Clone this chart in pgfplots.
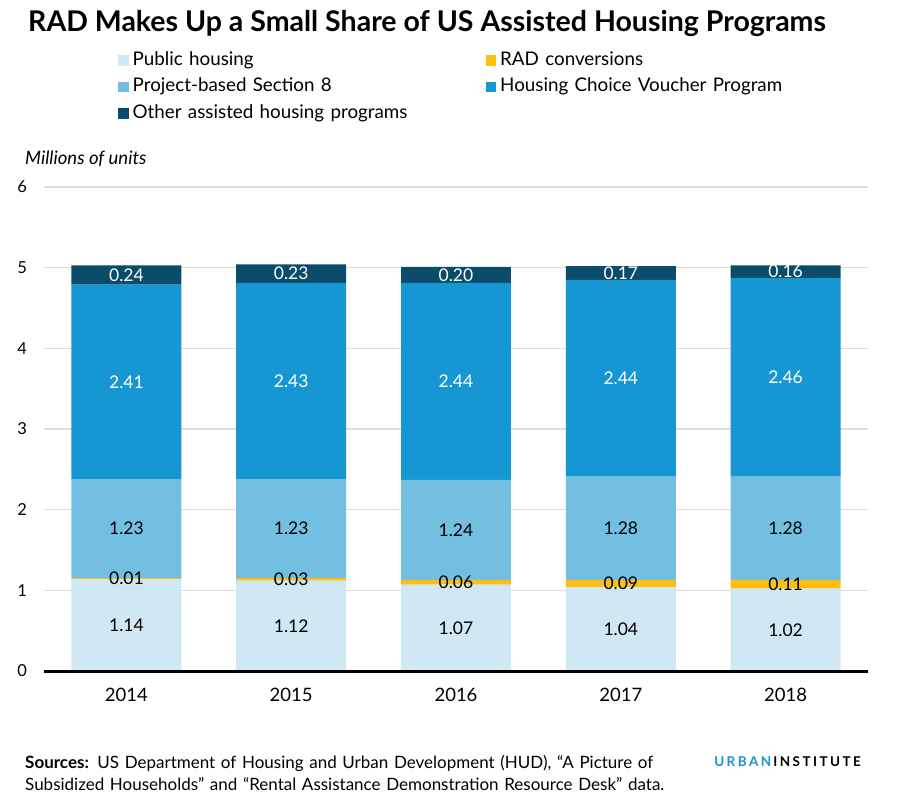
\documentclass[border=0pt]{standalone}
\usepackage{fontspec}
\setmainfont{Lato}
\usepackage{pgfplots}
\usepackage{pgfplotstable}
\pgfplotsset{compat=1.18}
\definecolor{cph}{HTML}{CFE8F3}
\definecolor{crad}{HTML}{FDBF11}
\definecolor{cpbs}{HTML}{73BFE2}
\definecolor{chcv}{HTML}{1696D2}
\definecolor{coth}{HTML}{0A4C6A}
\definecolor{cgrid}{HTML}{DEDDDD}
\pgfplotstableread{
x ph rad pbs hcv oth
0 1.14 0.01 1.23 2.41 0.24
1 1.12 0.03 1.23 2.43 0.23
2 1.07 0.06 1.24 2.44 0.20
3 1.04 0.09 1.28 2.44 0.17
4 1.02 0.11 1.28 2.46 0.16
}\datatable
\begin{document}
\begin{tikzpicture}
\path (-44pt,-138pt) rectangle (863pt,671pt);
\begin{axis}[
  at={(0pt,0pt)}, anchor=south west,
  scale only axis, width=824pt, height=484pt,
  ybar stacked, bar width=0.667,
  xmin=-0.5, xmax=4.5, ymin=0, ymax=6,
  xtick=data, xticklabels={2014,2015,2016,2017,2018},
  ytick={0,1,2,3,4,5,6},
  major tick length=0pt,
  axis line style={draw=none},
  ymajorgrids, major grid style={cgrid, line width=1.2pt},
  /pgf/number format/assume math mode=true,
  yticklabel style={font=\fontsize{16.5}{20}\selectfont, xshift=-13.5pt},
  xticklabel style={font=\fontsize{18.5}{22}\selectfont, yshift=-14pt},
  nodes near coords={\pgfmathprintnumber[fixed,fixed zerofill,precision=2]{\pgfplotspointmeta}},
  every node near coord/.append style={anchor=center, inner sep=0pt,
    font=\fontsize{17.5}{20}\selectfont},
  legend columns=2,
  legend style={draw=none, fill=none, inner sep=0pt,
    at={(0.0898,1.2888)}, anchor=north west,
    font=\fontsize{18.8}{21}\selectfont,
    nodes={text width=349pt, align=left, text height=13.5pt, text depth=4pt, inner ysep=4.5pt, inner xsep=4pt}},
  legend image code/.code={\fill[#1,draw=none] (0pt,-5pt) rectangle (10.5pt,5.5pt);},
  after end axis/.code={\draw[black, line width=3pt] (rel axis cs:0,0) -- (rel axis cs:1,0);},
]
\addplot[fill=cph, draw=none, nodes near coords style={black}] table[x=x,y=ph] {\datatable};
\addlegendentry{Public housing}
\addplot[fill=crad, draw=none, nodes near coords style={black}] table[x=x,y=rad] {\datatable};
\addlegendentry{RAD conversions}
\addplot[fill=cpbs, draw=none, nodes near coords style={black}] table[x=x,y=pbs] {\datatable};
\addlegendentry{Project-based Section 8}
\addplot[fill=chcv, draw=none, nodes near coords style={white}] table[x=x,y=hcv] {\datatable};
\addlegendentry{Housing Choice Voucher Program}
\addplot[fill=coth, draw=none, nodes near coords style={white}] table[x=x,y=oth] {\datatable};
\addlegendentry{Other assisted housing programs}
\end{axis}
\node[anchor=base west, inner sep=0pt, font=\bfseries\fontsize{28.5}{32}\selectfont] at (-16pt,639pt) {RAD Makes Up a Small Share of US Assisted Housing Programs};
\node[anchor=base west, inner sep=0pt, font=\itshape\fontsize{18.5}{20}\selectfont] at (-19pt,506pt) {Millions of units};
\node[anchor=base west, inner sep=0pt, text width=760pt, align=left, font=\fontsize{17}{22}\selectfont] at (-19pt,-97pt) {\textbf{Sources:} US Department of Housing and Urban Development (HUD), “A Picture of\\ Subsidized Households” and “Rental Assistance Demonstration Resource Desk” data.};
\node[anchor=base east, inner sep=0pt, font=\bfseries\fontsize{13.5}{16}\selectfont\addfontfeature{LetterSpace=18}] at (817pt,-95pt) {\textcolor{chcv}{URBAN}\,INSTITUTE};
\end{tikzpicture}
\end{document}
